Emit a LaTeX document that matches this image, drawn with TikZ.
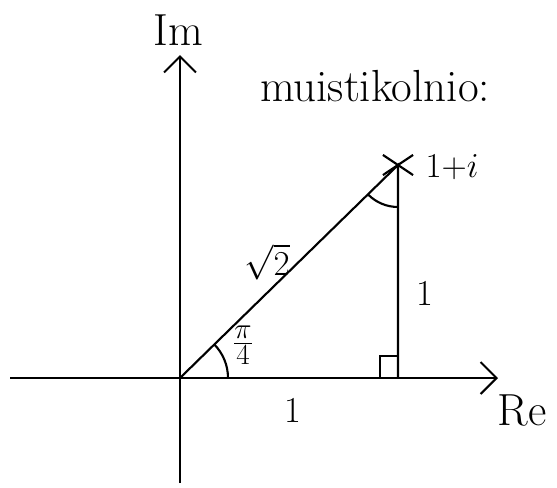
\documentclass[tikz,border=0pt]{standalone}
\usetikzlibrary{arrows.meta,shapes.misc}
\tikzset{
  axis/.style={-{Straight Barb[length=4mm,width=8mm]}},
  hand/.style={font=\fontsize{26}{30}\selectfont},
  big/.style={font=\fontsize{32}{36}\selectfont},
}
\begin{document}
\begin{tikzpicture}[x=0.25mm,y=-0.25mm,line width=1.5pt]
  \useasboundingbox (0,0) rectangle (557,488);
  % corners of the triangle and ends of the axes
  \coordinate (O) at (180,378);
  \coordinate (P) at (398,165);
  \coordinate (F) at (398,378);
  \coordinate (ReL) at (10,378);
  \coordinate (ReR) at (498,378);
  \coordinate (ImB) at (180,483);
  \coordinate (ImT) at (180,55);
  % axes
  \draw[axis] (ReL) -- (ReR);
  \draw[axis] (ImB) -- (ImT);
  % triangle
  \draw (O) -- (P) -- (F);
  \node[cross out,draw,minimum width=7mm,minimum height=4.5mm,inner sep=0pt] (mark) at (P) {};
  % angle marks
  \draw ([shift={(0:12mm)}]O) arc[start angle=0,end angle=45,radius=12mm];
  \draw ([shift={(225:10.5mm)}]P) arc[start angle=225,end angle=270,radius=10.5mm];
  \draw ([xshift=-4.5mm]F) -- ++(0,5.5mm) -- ++(4.5mm,0);
  % labels
  \node[big] (im) at (178,30) {Im};
  \node[big] (re) at (522,410) {Re};
  \node[big] (title) at (375,86) {muistikolnio:};
  \node[hand] (pt) at (452,167) {$1{+}i$};
  \node[hand] (hyp) at (267,262) {$\sqrt{2}$};
  \node[hand] (side) at (425,293) {1};
  \node[hand] (base) at (293,410) {1};
  \node[big] (ang) at (243,345) {$\frac{\pi}{4}$};
\end{tikzpicture}
\end{document}
